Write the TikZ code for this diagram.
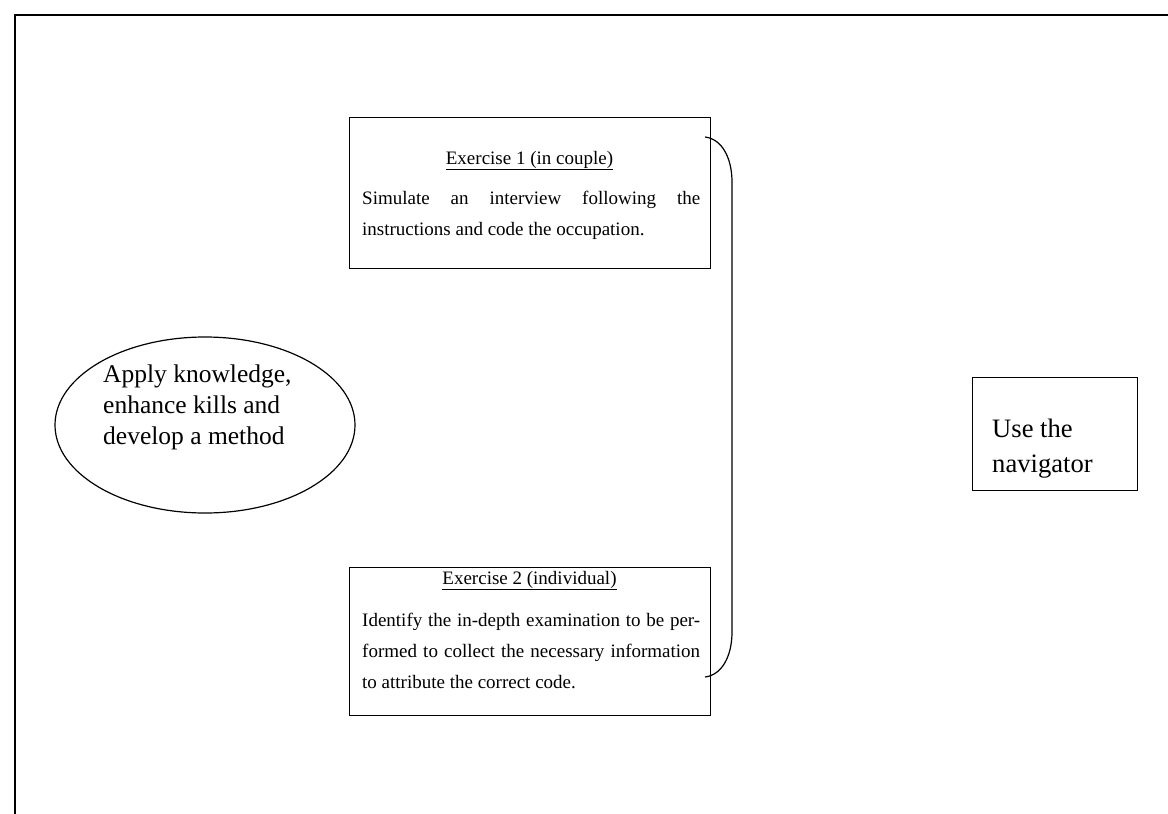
\documentclass[tikz,border=0pt]{standalone}
\usepackage{fontspec}
\setmainfont{Liberation Serif}
\usetikzlibrary{shapes.geometric}

\tikzset{
  frameline/.style={line width=1.6pt},
  boxline/.style={draw, line width=1.2pt, inner sep=0pt},
  bodytext/.style={inner sep=0pt, font=\fontsize{19}{31}\selectfont},
}

\begin{document}
\begin{tikzpicture}[x=1pt, y=-1pt]
  \useasboundingbox (0,0) rectangle (1168,814);

  % page frame, open to the right and bottom
  \draw[frameline] (15,830) -- (15,15) -- (1180,15);

  % goal ellipse
  \node[boxline, ellipse, minimum width=300pt, minimum height=176pt] (goal) at (205,425) {};
  \node[inner sep=0pt, anchor=north west, align=left, font=\fontsize{25.5}{31}\selectfont] (goaltext) at (103,360.3)
    {\strut Apply knowledge,\\ enhance kills and\\ develop a method};

  % exercise 1
  \node[boxline, anchor=north west, minimum width=361pt, minimum height=151pt] (ex1) at (349,117) {};
  \node[bodytext, anchor=base] (ex1title) at (529.5,164) {\underline{Exercise 1 (in couple)}};
  \node[bodytext, anchor=north west, text width=338pt, align=justify] (ex1text) at (362,182.8)
    {\strut Simulate an interview following the\linebreak instructions and code the occupation.};

  % exercise 2
  \node[boxline, anchor=north west, minimum width=361pt, minimum height=148pt] (ex2) at (349,567) {};
  \node[bodytext, anchor=base] (ex2title) at (529.5,584) {\underline{Exercise 2 (individual)}};
  \node[bodytext, anchor=north west, text width=338pt, align=justify] (ex2text) at (362,604.3)
    {\strut Identify the in-depth examination to be per-\linebreak formed to collect the necessary information\linebreak to attribute the correct code.};

  % navigator box
  \node[boxline, anchor=north west, minimum width=165pt, minimum height=113pt] (nav) at (972,377) {};
  \node[inner sep=0pt, anchor=north west, align=left, font=\fontsize{26.6}{35}\selectfont] (navtext) at (992,413)
    {\strut Use the\\ navigator};

  % brace grouping both exercises
  \coordinate (bracetop) at (705,137);
  \coordinate (bracebot) at (705,677);
  \draw[line width=1.2pt] (bracetop) .. controls (722,139) and (732,158) .. (732,182)
    -- (732,632) .. controls (732,656) and (722,675) .. (bracebot);
\end{tikzpicture}
\end{document}
